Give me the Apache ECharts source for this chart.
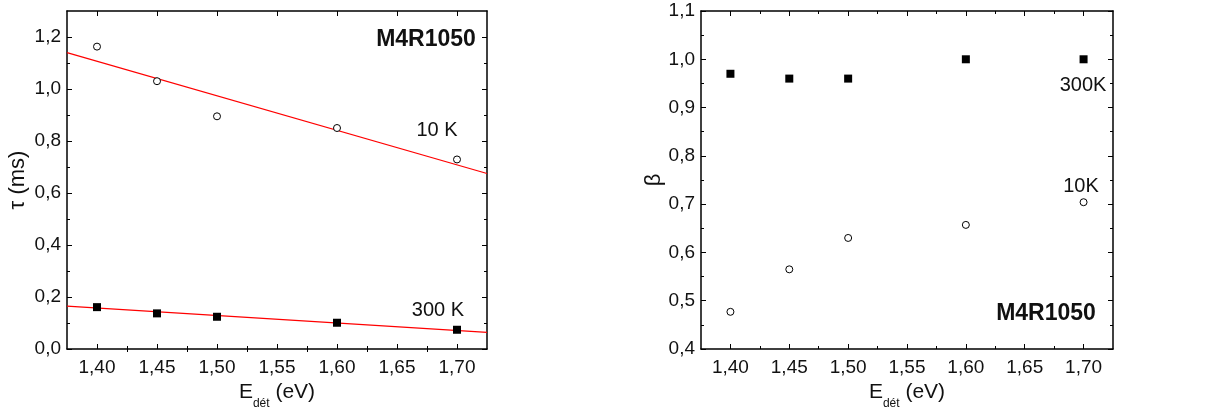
<!DOCTYPE html>
<html>
<head>
<meta charset="utf-8">
<script src="https://cdn.jsdelivr.net/npm/echarts@6/dist/echarts.min.js"></script>
<style>html,body{margin:0;padding:0;background:#fff}#c{width:1212px;height:409px}</style>
</head>
<body>
<div id="c"></div>
<script>
// ---- data ----
const energy = [1.40, 1.45, 1.50, 1.60, 1.70];
const tau10K = [1.163, 1.030, 0.895, 0.850, 0.729];
const tau300K = [0.161, 0.137, 0.124, 0.101, 0.074];
const fitX = [1.375, 1.725];
const fitTau10K = [1.140, 0.675];
const fitTau300K = [0.165, 0.064];
const beta300K = [0.970, 0.960, 0.960, 1.000, 1.000];
const beta10K = [0.477, 0.565, 0.630, 0.657, 0.704];
// ---- ticks ----
const xMajor = [1.40, 1.45, 1.50, 1.55, 1.60, 1.65, 1.70];
const xMinor = [1.425, 1.475, 1.525, 1.575, 1.625, 1.675];
const tauMajor = [0, 0.2, 0.4, 0.6, 0.8, 1.0, 1.2];
const tauMinor = [0.1, 0.3, 0.5, 0.7, 0.9, 1.1];
const betaMajor = [0.4, 0.5, 0.6, 0.7, 0.8, 0.9, 1.0, 1.1];
const betaMinor = [0.45, 0.55, 0.65, 0.75, 0.85, 0.95, 1.05];

const FONT = 'Liberation Sans, Arial, sans-serif';
const zip = (a, b) => a.map((v, i) => [v, b[i]]);
const comma = d => v => v.toFixed(d).replace('.', ',');

function axisPair(kind, grid, pos, min, max, major, minor, dec, withLabels, name, nameCfg) {
  const base = { type: 'value', gridIndex: grid, position: pos, min: min, max: max, splitLine: { show: false } };
  const a = Object.assign({}, base, {
    axisLine: { show: true, onZero: false, lineStyle: { color: '#000', width: 1.5 } },
    axisTick: { show: true, inside: true, length: 5, customValues: major, lineStyle: { color: '#000', width: 1 } },
    axisLabel: withLabels ? { show: true, customValues: major, formatter: comma(dec), color: '#111', fontSize: 19, fontFamily: FONT, margin: kind === 'x' ? 9 : 6 } : { show: false }
  });
  if (name) Object.assign(a, { name: name }, nameCfg);
  const b = Object.assign({}, base, {
    axisLine: { show: false },
    axisTick: { show: true, inside: true, length: 3, customValues: minor, lineStyle: { color: '#000', width: 1 } },
    axisLabel: { show: false }
  });
  return [a, b];
}

const xName = '{a|E}{s|dét}{a| (eV)}';
const xNameCfg = {
  nameLocation: 'middle', nameGap: 32,
  nameTextStyle: { rich: {
    a: { fontSize: 21, fontFamily: FONT, color: '#111', lineHeight: 24, verticalAlign: 'top' },
    s: { fontSize: 12, fontFamily: FONT, color: '#111', lineHeight: 28, verticalAlign: 'bottom' }
  } }
};
const yNameCfg = (gap) => ({ nameLocation: 'middle', nameGap: gap, nameRotate: 90,
  nameTextStyle: { fontSize: 22, fontFamily: FONT, color: '#111' } });

const xAxes = [], yAxes = [];
[0, 1].forEach(g => {
  xAxes.push(...axisPair('x', g, 'bottom', 1.375, 1.725, xMajor, xMinor, 2, true, xName, xNameCfg));
  xAxes.push(...axisPair('x', g, 'top', 1.375, 1.725, xMajor, xMinor, 2, false));
});
yAxes.push(...axisPair('y', 0, 'left', 0, 1.3, tauMajor, tauMinor, 1, true, 'τ (ms)', yNameCfg(38)));
yAxes.push(...axisPair('y', 0, 'right', 0, 1.3, tauMajor, tauMinor, 1, false));
yAxes.push(...axisPair('y', 1, 'left', 0.4, 1.1, betaMajor, betaMinor, 1, true, 'β', yNameCfg(34)));
yAxes.push(...axisPair('y', 1, 'right', 0.4, 1.1, betaMajor, betaMinor, 1, false));

const circle = { type: 'scatter', symbol: 'circle', symbolSize: 7,
  itemStyle: { color: '#fff', borderColor: '#000', borderWidth: 1, opacity: 1 }, z: 5 };
const square = { type: 'scatter', symbol: 'rect', symbolSize: 8,
  itemStyle: { color: '#000', opacity: 1 }, z: 5 };
const fit = { type: 'line', showSymbol: false, symbol: 'none', lineStyle: { color: '#ff0000', width: 1.2 }, z: 3 };

const series = [
  Object.assign({}, fit, { xAxisIndex: 0, yAxisIndex: 0, data: zip(fitX, fitTau10K) }),
  Object.assign({}, fit, { xAxisIndex: 0, yAxisIndex: 0, data: zip(fitX, fitTau300K) }),
  Object.assign({}, circle, { xAxisIndex: 0, yAxisIndex: 0, data: zip(energy, tau10K) }),
  Object.assign({}, square, { xAxisIndex: 0, yAxisIndex: 0, data: zip(energy, tau300K) }),
  Object.assign({}, square, { xAxisIndex: 4, yAxisIndex: 4, data: zip(energy, beta300K) }),
  Object.assign({}, circle, { xAxisIndex: 4, yAxisIndex: 4, data: zip(energy, beta10K) })
];

const txt = (x, y, s, size, bold) => ({ type: 'text', x: x, y: y, z: 10,
  style: { text: s, fontSize: size, fontWeight: bold ? 'bold' : 'normal', fontFamily: FONT, fill: '#111', align: 'center', verticalAlign: 'middle' } });

const chart = echarts.init(document.getElementById('c'), null, { renderer: 'canvas' });
chart.setOption({
  animation: false,
  backgroundColor: '#fff',
  grid: [
    { left: 67, top: 11, right: 725, bottom: 60, containLabel: false, outerBoundsMode: 'none' },
    { left: 701, top: 11, right: 99, bottom: 60, containLabel: false, outerBoundsMode: 'none' }
  ],
  xAxis: xAxes,
  yAxis: yAxes,
  series: series,
  graphic: [
    txt(426, 40, 'M4R1050', 23, true),
    txt(437, 130, '10 K', 20, false),
    txt(438, 310, '300 K', 20, false),
    txt(1083, 85, '300K', 20, false),
    txt(1081, 186, '10K', 20, false),
    txt(1046, 314, 'M4R1050', 23, true)
  ]
});
</script>
</body>
</html>
